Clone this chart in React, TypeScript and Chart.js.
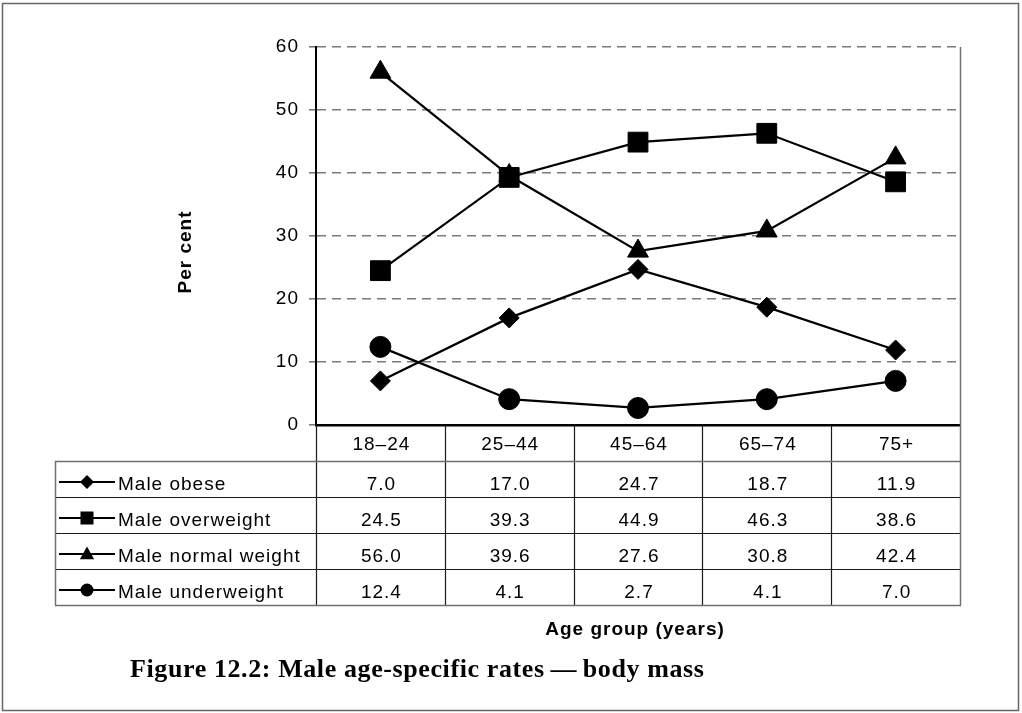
import React, { useEffect, useRef } from 'react';
import { Chart, registerables } from 'chart.js';

Chart.register(...registerables);

const categories = ['18–24', '25–44', '45–64', '65–74', '75+'];
const seriesNames = ['Male obese', 'Male overweight', 'Male normal weight', 'Male underweight'];
const maleObese = [7.0, 17.0, 24.7, 18.7, 11.9];
const maleOverweight = [24.5, 39.3, 44.9, 46.3, 38.6];
const maleNormalWeight = [56.0, 39.6, 27.6, 30.8, 42.4];
const maleUnderweight = [12.4, 4.1, 2.7, 4.1, 7.0];
const yMin = 0;
const yMax = 60;
const yStep = 10;
const yTitle = 'Per cent';
const xTitle = 'Age group (years)';
const caption = 'Figure 12.2: Male age-specific rates\u2009\u2014\u2009body mass';

const seriesValues = [maleObese, maleOverweight, maleNormalWeight, maleUnderweight];
const pointStyles = ['rectRot', 'rect', 'triangle', 'circle'];
const pointRadii = [10, 14, 12, 10.5];
const sampleRadii = [7, 6.5, 7.5, 6.5];

const SANS = '"Liberation Sans", Arial, sans-serif';
const SERIF = '"Liberation Serif", "Times New Roman", serif';
const SPACING = '1px';

function drawMarker(ctx: CanvasRenderingContext2D, style: string, x: number, y: number, r: number) {
  ctx.beginPath();
  if (style === 'rectRot') {
    ctx.moveTo(x - r, y);
    ctx.lineTo(x, y - r);
    ctx.lineTo(x + r, y);
    ctx.lineTo(x, y + r);
    ctx.closePath();
  } else if (style === 'rect') {
    ctx.rect(x - r, y - r, 2 * r, 2 * r);
  } else if (style === 'triangle') {
    ctx.moveTo(x, y - r);
    ctx.lineTo(x + r * 0.95, y + r * 0.7);
    ctx.lineTo(x - r * 0.95, y + r * 0.7);
    ctx.closePath();
  } else {
    ctx.arc(x, y, r, 0, Math.PI * 2);
  }
  ctx.fillStyle = '#000';
  ctx.fill();
}

const tablePlugin = {
  id: 'tablePlugin',
  beforeDraw(chart: any) {
    const ctx = chart.ctx as CanvasRenderingContext2D;
    (ctx as any).letterSpacing = SPACING;
    ctx.save();
    ctx.fillStyle = '#fff';
    ctx.fillRect(0, 0, chart.width, chart.height);
    ctx.restore();
  },
  afterDraw(chart: any) {
    const ctx = chart.ctx as CanvasRenderingContext2D;
    const { chartArea, scales } = chart;
    const xs = scales.x;
    const left = chartArea.left;
    const right = chartArea.right;
    const top = chartArea.top;
    const bottom = chartArea.bottom;
    const headerH = 36;
    const rowH = 36;
    const tableLeft = 55;
    const rowsTop = bottom + headerH;
    const tableBottom = rowsTop + rowH * seriesNames.length;

    ctx.save();
    (ctx as any).letterSpacing = SPACING;

    // column boundaries from the category scale
    const centers = categories.map((_, i) => xs.getPixelForValue(i));
    const bounds: number[] = [left];
    for (let i = 0; i < centers.length - 1; i++) bounds.push((centers[i] + centers[i + 1]) / 2);
    bounds.push(right);

    // inner lines
    ctx.strokeStyle = '#1a1a1a';
    ctx.lineWidth = 1.2;
    ctx.beginPath();
    for (let i = 0; i < bounds.length - 1; i++) {
      const bx = Math.round(bounds[i]) + 0.5;
      ctx.moveTo(bx, bottom);
      ctx.lineTo(bx, tableBottom);
    }
    for (let r = 1; r < seriesNames.length; r++) {
      const y = rowsTop + r * rowH + 0.5;
      ctx.moveTo(tableLeft, y);
      ctx.lineTo(right, y);
    }
    ctx.stroke();

    // outer lines
    ctx.strokeStyle = '#707070';
    ctx.lineWidth = 1.5;
    ctx.beginPath();
    ctx.moveTo(tableLeft, rowsTop + 0.5);
    ctx.lineTo(right, rowsTop + 0.5);
    ctx.moveTo(tableLeft + 0.5, rowsTop);
    ctx.lineTo(tableLeft + 0.5, tableBottom);
    ctx.moveTo(tableLeft, tableBottom + 0.5);
    ctx.lineTo(right + 1, tableBottom + 0.5);
    ctx.moveTo(right + 0.5, top);
    ctx.lineTo(right + 0.5, tableBottom);
    ctx.stroke();

    // header labels
    ctx.fillStyle = '#000';
    ctx.font = `19px ${SANS}`;
    ctx.textAlign = 'center';
    ctx.textBaseline = 'alphabetic';
    categories.forEach((c, i) => ctx.fillText(c, centers[i] + 1, bottom + 25));

    // rows
    seriesNames.forEach((name, r) => {
      const rowTop = rowsTop + r * rowH;
      const ly = rowTop + 21;
      ctx.strokeStyle = '#000';
      ctx.lineWidth = 2;
      ctx.beginPath();
      ctx.moveTo(59, ly);
      ctx.lineTo(115, ly);
      ctx.stroke();
      drawMarker(ctx, pointStyles[r], 87, ly, sampleRadii[r]);
      ctx.fillStyle = '#000';
      ctx.font = `19px ${SANS}`;
      ctx.textAlign = 'left';
      ctx.fillText(name, 118, rowTop + 28.5);
      ctx.textAlign = 'center';
      seriesValues[r].forEach((v, i) => ctx.fillText(v.toFixed(1), centers[i] + 1, rowTop + 28.5));
    });

    // axis titles
    ctx.font = `bold 19px ${SANS}`;
    ctx.textAlign = 'center';
    ctx.fillText(xTitle, (left + right) / 2 - 3, tableBottom + 30);
    ctx.save();
    ctx.translate(191, 252);
    ctx.rotate(-Math.PI / 2);
    ctx.textBaseline = 'alphabetic';
    ctx.fillText(yTitle, 0, 0);
    ctx.restore();

    // caption
    (ctx as any).letterSpacing = '0.6px';
    ctx.font = `bold 26px ${SERIF}`;
    ctx.textAlign = 'left';
    ctx.fillText(caption, 130, 677);

    // outer frame
    ctx.strokeStyle = '#666';
    ctx.lineWidth = 1.5;
    ctx.strokeRect(2.5, 3.5, 1016, 707);
    ctx.restore();
  },
};

export default function App() {
  const canvasRef = useRef<HTMLCanvasElement | null>(null);

  useEffect(() => {
    if (!canvasRef.current) return;
    const chart = new Chart(canvasRef.current, {
      type: 'line',
      data: {
        labels: categories,
        datasets: seriesNames.map((name, i) => ({
          label: name,
          data: seriesValues[i],
          borderColor: '#000',
          backgroundColor: '#000',
          borderWidth: 2.25,
          pointStyle: pointStyles[i] as any,
          pointRadius: pointRadii[i],
          pointBackgroundColor: '#000',
          pointBorderColor: '#000',
          pointBorderWidth: 1,
          tension: 0,
          fill: false,
        })),
      },
      options: {
        responsive: false,
        maintainAspectRatio: false,
        devicePixelRatio: 1,
        animation: false,
        layout: { padding: { left: 160, right: 62, top: 47, bottom: 0 } },
        plugins: {
          legend: { display: false },
          tooltip: { enabled: false },
        },
        scales: {
          x: {
            type: 'category',
            offset: true,
            ticks: { display: false },
            grid: { display: false },
            border: { display: true, color: '#000', width: 2.5 },
            afterFit: (scale: any) => {
              scale.height = 288;
            },
          },
          y: {
            min: yMin,
            max: yMax,
            ticks: {
              stepSize: yStep,
              color: '#000',
              padding: 10,
              font: { family: SANS, size: 19 },
            },
            grid: {
              color: '#7a7a7a',
              lineWidth: 1.6,
              tickLength: 7,
              tickColor: '#7a7a7a',
              tickBorderDash: [],
            },
            border: { display: true, color: '#000', width: 2, dash: [9, 6] },
            afterFit: (scale: any) => {
              scale.width = 156;
            },
          },
        },
      },
      plugins: [tablePlugin],
    });
    return () => chart.destroy();
  }, []);

  return (
    <div style={{ position: 'absolute', left: 0, top: 0, width: 1022, height: 713, background: '#fff' }}>
      <canvas ref={canvasRef} width={1022} height={713} style={{ display: 'block', width: 1022, height: 713 }} />
    </div>
  );
}
